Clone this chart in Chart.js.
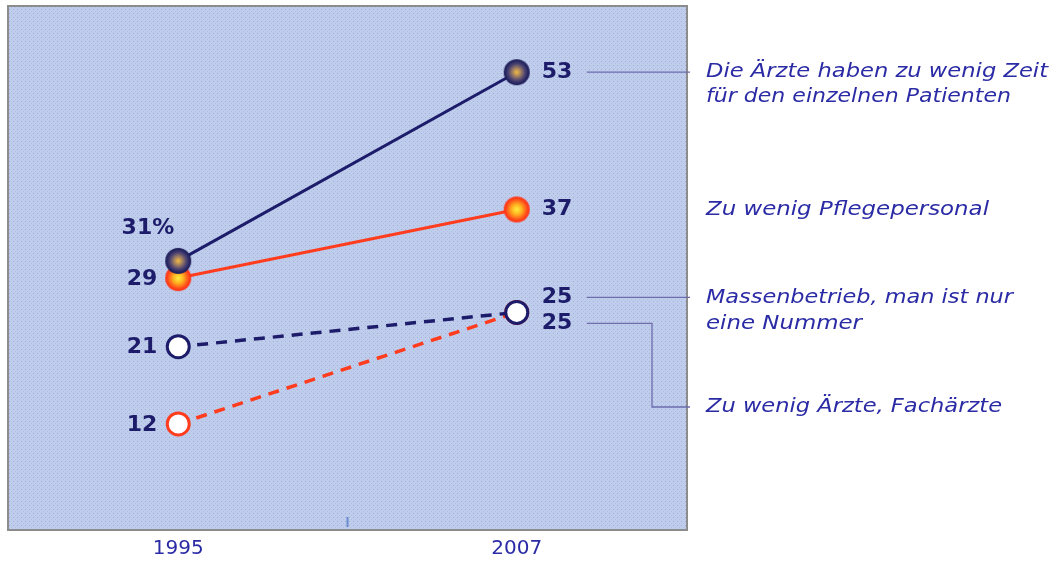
<!DOCTYPE html>
<html>
<head>
<meta charset="utf-8">
<script src="https://cdn.jsdelivr.net/npm/chart.js@4"></script>
<style>
html,body{margin:0;padding:0;background:#ffffff;}
#wrap{position:relative;width:1055px;height:562px;}
</style>
</head>
<body>
<div id="wrap"><canvas id="c"></canvas></div>
<script>
// ---- data ----
const years = [1995, 2007];
const tickLabels = ['1995', '2007'];
const zeitMangel = [31, 53];        // Die Ärzte haben zu wenig Zeit ...
const pflegepersonal = [29, 37];    // Zu wenig Pflegepersonal
const massenbetrieb = [21, 25];     // Massenbetrieb, man ist nur eine Nummer
const aerzteMangel = [12, 25];      // Zu wenig Ärzte, Fachärzte
const seriesNames = [
  ['Die Ärzte haben zu wenig Zeit', 'für den einzelnen Patienten'],
  ['Zu wenig Pflegepersonal'],
  ['Massenbetrieb, man ist nur', 'eine Nummer'],
  ['Zu wenig Ärzte, Fachärzte']
];

const NAVY = '#1c1c6a';
const ORANGE = '#ff3c1e';
const TEXTBLUE = '#2b2ba6';
const LINEGRAY = '#6c6cac';

function ballImage(stops, r) {
  const c = document.createElement('canvas');
  c.width = c.height = r * 2 + 2;
  const g = c.getContext('2d');
  const cx = r + 1;
  const grad = g.createRadialGradient(cx, cx, 0, cx, cx, r);
  stops.forEach(s => grad.addColorStop(s[0], s[1]));
  g.fillStyle = grad;
  g.beginPath(); g.arc(cx, cx, r, 0, Math.PI * 2); g.fill();
  return c;
}
const navyBall = ballImage([[0, '#f4bc40'], [0.3, '#a88460'], [0.65, '#4a4272'], [0.9, '#22225e'], [1, '#1e1e58']], 13);
const orangeBall = ballImage([[0, '#fff040'], [0.4, '#ffb020'], [0.8, '#ff4a1c'], [1, '#ff3018']], 13);

function pts(arr) { return arr.map((v, i) => ({x: years[i], y: v})); }

// dotted background pattern
const pc = document.createElement('canvas');
pc.width = 4; pc.height = 4;
const pg = pc.getContext('2d');
pg.fillStyle = '#bfcdec'; pg.fillRect(0, 0, 4, 4);
pg.fillStyle = '#a9aad8'; pg.fillRect(1, 1, 1, 1);
pg.fillStyle = '#b2c0e4'; pg.fillRect(3, 3, 1, 1);

const bgPlugin = {
  id: 'bg',
  beforeDraw(chart) {
    const {ctx, chartArea: a} = chart;
    ctx.save();
    ctx.fillStyle = ctx.createPattern(pc, 'repeat');
    ctx.fillRect(a.left, a.top, a.right - a.left, a.bottom - a.top);
    ctx.strokeStyle = '#8c8c8c';
    ctx.lineWidth = 2;
    ctx.strokeRect(a.left - 1, a.top - 1, a.right - a.left + 2, a.bottom - a.top + 2);
    // small mid tick
    const xs = chart.scales.x;
    const mx = xs.getPixelForValue((years[0] + years[1]) / 2);
    ctx.strokeStyle = '#6a8ad0';
    ctx.lineWidth = 2;
    ctx.beginPath(); ctx.moveTo(mx, a.bottom - 12); ctx.lineTo(mx, a.bottom - 2); ctx.stroke();
    ctx.restore();
  }
};

const labelPlugin = {
  id: 'labels',
  afterDraw(chart) {
    const {ctx, scales: {x, y}} = chart;
    const x0 = x.getPixelForValue(years[0]);
    const x1 = x.getPixelForValue(years[1]);
    ctx.save();
    ctx.fillStyle = NAVY;
    ctx.font = 'bold 22px "DejaVu Sans"';
    ctx.textBaseline = 'middle';
    // right side values
    ctx.textAlign = 'left';
    const rx = x1 + 25;
    ctx.fillText(String(zeitMangel[1]), rx, y.getPixelForValue(zeitMangel[1]));
    ctx.fillText(String(pflegepersonal[1]), rx, y.getPixelForValue(pflegepersonal[1]));
    const y25a = y.getPixelForValue(massenbetrieb[1]) - 15;
    const y25b = y.getPixelForValue(aerzteMangel[1]) + 11;
    ctx.fillText(String(massenbetrieb[1]), rx, y25a);
    ctx.fillText(String(aerzteMangel[1]), rx, y25b);
    // left side values
    ctx.textAlign = 'right';
    const lx = x0 - 21;
    ctx.fillText(String(pflegepersonal[0]), lx, y.getPixelForValue(pflegepersonal[0]) + 1);
    ctx.fillText(String(massenbetrieb[0]), lx, y.getPixelForValue(massenbetrieb[0]) + 1);
    ctx.fillText(String(aerzteMangel[0]), lx, y.getPixelForValue(aerzteMangel[0]) + 1);
    ctx.fillText(zeitMangel[0] + '%', x0 - 4, y.getPixelForValue(zeitMangel[0]) - 33);

    // connectors
    ctx.strokeStyle = LINEGRAY;
    ctx.lineWidth = 1.3;
    const cx0 = x1 + 70, cx1 = 690;
    const yZeit = y.getPixelForValue(zeitMangel[1]);
    ctx.beginPath();
    ctx.moveTo(cx0, yZeit); ctx.lineTo(cx1, yZeit);
    ctx.moveTo(cx0, y25a); ctx.lineTo(cx1, y25a);
    ctx.moveTo(cx0, y25b); ctx.lineTo(652, y25b); ctx.lineTo(652, 407); ctx.lineTo(cx1, 407);
    ctx.stroke();

    // legend texts
    ctx.fillStyle = TEXTBLUE;
    ctx.font = 'oblique 20px "DejaVu Sans"';
    ctx.textAlign = 'left';
    const tx = 706;
    const pos = [
      [yZeit, yZeit + 25],
      [y.getPixelForValue(pflegepersonal[1])],
      [y25a, y25a + 26],
      [407]
    ];
    seriesNames.forEach((lines, i) => {
      lines.forEach((t, j) => {
        const w = ctx.measureText(t).width;
        const target = [[342, 305], [283], [307, 156], [296]][i][j];
        ctx.save();
        ctx.translate(tx, pos[i][j]);
        ctx.scale(target / w, 1);
        ctx.fillText(t, 0, 0);
        ctx.restore();
      });
    });
    ctx.restore();
  }
};

new Chart(document.getElementById('c'), {
  type: 'line',
  data: {
    datasets: [
      {label: seriesNames[0].join(' '), data: pts(zeitMangel), borderColor: NAVY, borderWidth: 3,
       pointStyle: navyBall, pointRadius: 13},
      {label: seriesNames[1].join(' '), data: pts(pflegepersonal), borderColor: ORANGE, borderWidth: 3,
       pointStyle: orangeBall, pointRadius: 13},
      {label: seriesNames[2].join(' '), data: pts(massenbetrieb), borderColor: NAVY, borderWidth: 3.5,
       borderDash: [11, 8], pointRadius: 11, pointBorderWidth: 3, pointBackgroundColor: '#ffffff', pointBorderColor: NAVY},
      {label: seriesNames[3].join(' '), data: pts(aerzteMangel), borderColor: ORANGE, borderWidth: 3.5,
       borderDash: [11, 8], pointRadius: 11, pointBorderWidth: 3, pointBackgroundColor: '#ffffff', pointBorderColor: ORANGE}
    ]
  },
  options: {
    responsive: true,
    maintainAspectRatio: false,
    animation: false,
    layout: {autoPadding: false, padding: {left: 9, right: 369, top: 7, bottom: 0}},
    plugins: {legend: {display: false}, tooltip: {enabled: false}},
    scales: {
      x: {
        type: 'linear', min: 1989, max: 2013,
        grid: {display: false, drawTicks: false},
        border: {display: false},
        afterBuildTicks: (s) => { s.ticks = years.map(v => ({value: v})); },
        afterFit: (s) => { s.height = 33; },
        ticks: {
          padding: 8,
          color: TEXTBLUE,
          font: {family: 'DejaVu Sans', size: 20},
          callback: (v) => tickLabels[years.indexOf(v)]
        }
      },
      y: {display: false, min: -0.25, max: 60.6}
    }
  },
  plugins: [bgPlugin, labelPlugin]
});
</script>
</body>
</html>
